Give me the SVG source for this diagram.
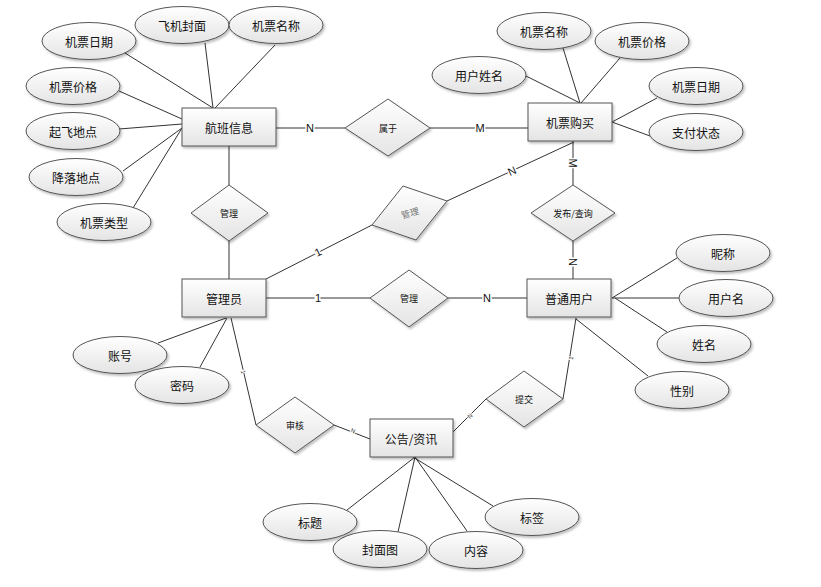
<svg xmlns="http://www.w3.org/2000/svg" width="821" height="587" viewBox="0 0 821 587">
<defs>
<linearGradient id="g" x1="0" y1="0" x2="0" y2="1">
<stop offset="0" stop-color="#ffffff"/>
<stop offset="1" stop-color="#e4e4e4"/>
</linearGradient>
<filter id="sh" x="-10%" y="-10%" width="130%" height="140%">
<feDropShadow dx="1.5" dy="2" stdDeviation="1" flood-color="#000" flood-opacity="0.25"/>
</filter>
</defs>
<style>
.s{fill:url(#g);stroke:#555;stroke-width:1;filter:url(#sh)}
.t{font-family:"Noto Sans CJK SC","Microsoft YaHei",sans-serif;font-size:12px;fill:#111;text-anchor:middle;dominant-baseline:central}
.d{font-family:"Noto Sans CJK SC","Microsoft YaHei",sans-serif;font-size:9px;fill:#111;text-anchor:middle;dominant-baseline:central}
.c line,.c polyline{stroke:#333;stroke-width:1;fill:none}
.l{font-family:"Liberation Sans",Arial,sans-serif;font-size:11px;fill:#111;text-anchor:middle;dominant-baseline:central;stroke:#fff;stroke-width:3;paint-order:stroke}
.m{font-family:"Liberation Sans",Arial,sans-serif;font-size:6px;fill:#333;text-anchor:middle;dominant-baseline:central;stroke:#fff;stroke-width:2;paint-order:stroke}
</style>
<rect width="821" height="587" fill="#fff"/>
<g class="c" id="connectors">
<line x1="125" y1="53" x2="213" y2="108"/>
<line x1="205" y1="43" x2="213" y2="108"/>
<line x1="275" y1="45" x2="215" y2="108"/>
<line x1="119" y1="91" x2="182" y2="119"/>
<line x1="119" y1="129" x2="182" y2="124"/>
<line x1="123" y1="171" x2="182" y2="128"/>
<line x1="133" y1="208" x2="182" y2="128"/>
<line x1="276" y1="128" x2="345" y2="128"/>
<line x1="430" y1="128" x2="528" y2="128"/>
<line x1="229" y1="146" x2="229" y2="185"/>
<line x1="229" y1="241" x2="229" y2="279"/>
<line x1="526" y1="76" x2="580" y2="103"/>
<line x1="563" y1="48" x2="580" y2="103"/>
<line x1="620" y1="58" x2="581" y2="103"/>
<line x1="657" y1="98" x2="612" y2="122"/>
<line x1="650" y1="136" x2="612" y2="122"/>
<line x1="573" y1="141" x2="573" y2="185"/>
<line x1="573" y1="241" x2="573" y2="279"/>
<line x1="266" y1="279" x2="372" y2="225"/>
<line x1="447" y1="201" x2="574" y2="142"/>
<line x1="266" y1="298" x2="370" y2="298"/>
<line x1="448" y1="298" x2="527" y2="298"/>
<line x1="158" y1="343" x2="226" y2="318"/>
<line x1="200" y1="367" x2="227" y2="318"/>
<polyline points="231,318 256,425"/>
<line x1="334" y1="425" x2="370" y2="439"/>
<line x1="453" y1="432" x2="486" y2="399"/>
<line x1="563" y1="399" x2="576" y2="318"/>
<line x1="677" y1="258" x2="612" y2="298"/>
<line x1="679" y1="298" x2="612" y2="298"/>
<line x1="667" y1="332" x2="615" y2="298"/>
<line x1="648" y1="376" x2="576" y2="319"/>
<line x1="347" y1="510" x2="415" y2="457"/>
<line x1="398" y1="532" x2="415" y2="457"/>
<line x1="467" y1="531" x2="415" y2="457"/>
<line x1="493" y1="506" x2="413" y2="457"/>
<text class="l" x="310" y="128">N</text>
<text class="l" x="480" y="128">M</text>
<text class="l" x="573" y="163" transform="rotate(90 573 163)">M</text>
<text class="l" x="573" y="262" transform="rotate(90 573 262)">N</text>
<text class="l" x="318" y="252" transform="rotate(-27 318 252)">1</text>
<text class="l" x="512" y="171" transform="rotate(-25 512 171)">N</text>
<text class="l" x="318" y="298">1</text>
<text class="l" x="487" y="298">N</text>
<text class="m" x="243" y="372" transform="rotate(77 243 372)">1</text>
<text class="m" x="353" y="431" transform="rotate(21 353 431)">N</text>
<text class="m" x="470" y="416" transform="rotate(-45 470 416)">N</text>
<text class="m" x="571" y="358" transform="rotate(-81 571 358)">1</text>
</g>
<g id="e-hangban"><rect class="s" x="182" y="108" width="94" height="38"/><text class="t" x="229" y="127">航班信息</text></g>
<g id="e-goumai"><rect class="s" x="528" y="103" width="84" height="38"/><text class="t" x="570" y="122">机票购买</text></g>
<g id="e-admin"><rect class="s" x="182" y="279" width="84" height="38"/><text class="t" x="224" y="298">管理员</text></g>
<g id="e-user"><rect class="s" x="527" y="279" width="84" height="38"/><text class="t" x="569" y="298">普通用户</text></g>
<g id="e-news"><rect class="s" x="370" y="419" width="83" height="38"/><text class="t" x="411" y="438">公告/资讯</text></g>
<g id="r-shuyu"><polygon class="s" points="345,128 388,99 430,128 388,156"/><text class="d" x="388" y="128">属于</text></g>
<g id="r-guanli1"><polygon class="s" points="191,213 229,185 268,213 229,241"/><text class="d" x="229" y="213">管理</text></g>
<g id="r-fabu"><polygon class="s" points="531,213 573,185 615,213 573,241"/><text class="d" x="573" y="213">发布/查询</text></g>
<g id="r-guanli2"><polygon class="s" points="403,186 447,201 416,240 372,225"/><text class="d" x="410" y="213" style="fill:#777" transform="rotate(-16 410 213)">管理</text></g>
<g id="r-guanli3"><polygon class="s" points="370,298 409,270 448,298 409,327"/><text class="d" x="409" y="298">管理</text></g>
<g id="r-shenhe"><polygon class="s" points="256,425 295,397 334,425 295,453"/><text class="d" x="295" y="425">审核</text></g>
<g id="r-tijiao"><polygon class="s" points="486,399 524,371 563,399 524,427"/><text class="d" x="524" y="399">提交</text></g>
<g id="a1"><ellipse class="s" cx="89" cy="41" rx="47" ry="18.5"/><text class="t" x="89" y="41">机票日期</text></g>
<g id="a2"><ellipse class="s" cx="182" cy="25" rx="47" ry="18.5"/><text class="t" x="182" y="25">飞机封面</text></g>
<g id="a3"><ellipse class="s" cx="276" cy="25" rx="47" ry="18.5"/><text class="t" x="276" y="25">机票名称</text></g>
<g id="a4"><ellipse class="s" cx="73" cy="86" rx="47" ry="18.5"/><text class="t" x="73" y="86">机票价格</text></g>
<g id="a5"><ellipse class="s" cx="73" cy="131" rx="47" ry="18.5"/><text class="t" x="73" y="131">起飞地点</text></g>
<g id="a6"><ellipse class="s" cx="76" cy="177" rx="47" ry="18.5"/><text class="t" x="76" y="177">降落地点</text></g>
<g id="a7"><ellipse class="s" cx="104" cy="222" rx="47" ry="18.5"/><text class="t" x="104" y="222">机票类型</text></g>
<g id="b1"><ellipse class="s" cx="544" cy="31" rx="47" ry="18.5"/><text class="t" x="544" y="31">机票名称</text></g>
<g id="b2"><ellipse class="s" cx="642" cy="41" rx="47" ry="18.5"/><text class="t" x="642" y="41">机票价格</text></g>
<g id="b3"><ellipse class="s" cx="479" cy="75" rx="47" ry="18.5"/><text class="t" x="479" y="75">用户姓名</text></g>
<g id="b4"><ellipse class="s" cx="696" cy="86" rx="47" ry="18.5"/><text class="t" x="696" y="86">机票日期</text></g>
<g id="b5"><ellipse class="s" cx="696" cy="132" rx="47" ry="18.5"/><text class="t" x="696" y="132">支付状态</text></g>
<g id="c1"><ellipse class="s" cx="723" cy="253" rx="47" ry="18.5"/><text class="t" x="723" y="253">昵称</text></g>
<g id="c2"><ellipse class="s" cx="726" cy="298" rx="47" ry="18.5"/><text class="t" x="726" y="298">用户名</text></g>
<g id="c3"><ellipse class="s" cx="704" cy="344" rx="47" ry="18.5"/><text class="t" x="704" y="344">姓名</text></g>
<g id="c4"><ellipse class="s" cx="682" cy="390" rx="47" ry="18.5"/><text class="t" x="682" y="390">性别</text></g>
<g id="d1"><ellipse class="s" cx="120" cy="355" rx="47" ry="18.5"/><text class="t" x="120" y="355">账号</text></g>
<g id="d2"><ellipse class="s" cx="182" cy="385" rx="47" ry="18.5"/><text class="t" x="182" y="385">密码</text></g>
<g id="f1"><ellipse class="s" cx="310" cy="522" rx="47" ry="18.5"/><text class="t" x="310" y="522">标题</text></g>
<g id="f2"><ellipse class="s" cx="380" cy="549" rx="47" ry="18.5"/><text class="t" x="380" y="549">封面图</text></g>
<g id="f3"><ellipse class="s" cx="476" cy="550" rx="47" ry="18.5"/><text class="t" x="476" y="550">内容</text></g>
<g id="f4"><ellipse class="s" cx="532" cy="517" rx="47" ry="18.5"/><text class="t" x="532" y="517">标签</text></g>
</svg>
